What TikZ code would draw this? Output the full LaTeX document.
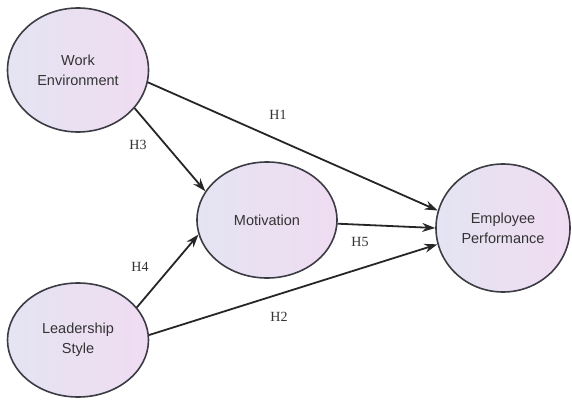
\documentclass[tikz,border=0pt]{standalone}
\usepackage{fontspec}
\setmainfont{Liberation Serif}
\setsansfont{Liberation Sans}
\usepackage{tikz}
\usetikzlibrary{arrows.meta,shapes.geometric}
\definecolor{lavleft}{HTML}{E4E4F2}
\definecolor{lavright}{HTML}{F0DCF2}
\definecolor{rim}{HTML}{3C3C44}
\tikzset{
    construct/.style={ellipse, draw=rim, line width=1.6pt, left color=lavleft, right color=lavright,
        align=center, inner sep=0pt, font=\sffamily\fontsize{14.5}{20}\selectfont, text=black!80},
    hyp/.style={font=\fontsize{14}{16}\selectfont, text=black!80, inner sep=1pt}
}

\begin{document}
\begin{tikzpicture}[x=1pt,y=-1pt,>={Stealth[length=13pt,width=9pt]}]
\useasboundingbox (0,0) rectangle (572,401);
% constructs
\node[construct, minimum width=141, minimum height=124] (we) at (78,70) {Work\\Environment};
\node[construct, minimum width=140, minimum height=116] (mot) at (267,220) {Motivation};
\node[construct, minimum width=134, minimum height=128] (ep) at (503,228) {Employee\\Performance};
\node[construct, minimum width=141, minimum height=114] (ls) at (78,340) {Leadership\\Style};
% paths
\begin{scope}[line width=1.8pt, draw=black!85]
\draw[->] (we.-10) -- (ep.165);  % H1
\draw[->] (ls.4) -- (ep.194);    % H2
\draw[->] (we.-34) -- (mot.155); % H3
\draw[->] (ls.29) -- (mot.192);  % H4
\draw[->] (mot.-3) -- (ep.180);  % H5
\end{scope}
% hypotheses
\foreach \lbl/\x/\y in {H1/278/115, H2/279/317, H3/138/145, H4/140/267, H5/360/242} {%
\node[hyp] (\lbl) at (\x,\y) {\lbl};
};
\end{tikzpicture}
\end{document}
